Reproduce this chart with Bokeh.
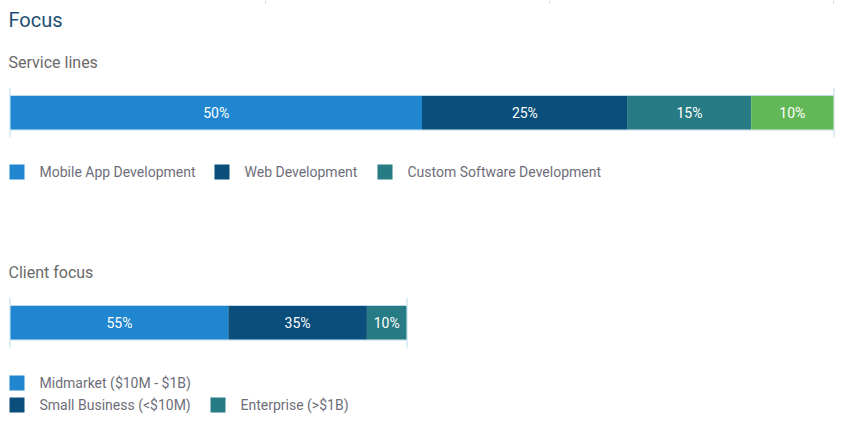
from bokeh.plotting import figure
from bokeh.models import Range1d, ColumnDataSource
from bokeh.embed import file_html
from bokeh.resources import INLINE
from bokeh.core.properties import value
import numpy as np

# ---- data ----
title_text = "Focus"
service_title = "Service lines"
service_labels = ["Mobile App Development", "Web Development", "Custom Software Development", "Other"]
service_values = [50, 25, 15, 10]
service_legend = ["Mobile App Development", "Web Development", "Custom Software Development"]

client_title = "Client focus"
client_labels = ["Midmarket ($10M - $1B)", "Small Business (<$10M)", "Enterprise (>$1B)"]
client_values = [55, 35, 10]

palette = ["#1f86cf", "#0a4f7b", "#277b85", "#62b857"]

FONT = value("Roboto")
BORDER = "#bcdcee"

W, H = 850, 424
p = figure(width=W, height=H, x_range=Range1d(0, W), y_range=Range1d(H, 0),
           output_backend="svg", toolbar_location=None, min_border=0,
           outline_line_color=None)
p.xaxis.visible = False
p.yaxis.visible = False
p.xgrid.visible = False
p.ygrid.visible = False
p.background_fill_color = "white"
p.border_fill_color = "white"

# faint top ticks
p.segment(x0=[265, 549, 833], y0=[0, 0, 0], x1=[265, 549, 833], y1=[3, 3, 3],
          line_color=BORDER, line_width=1)

# titles
p.text(x=[8], y=[19], text=[title_text], text_font=FONT, text_font_size="20px",
       text_color="#1e4f73", text_baseline="middle", text_align="left")
p.text(x=[8], y=[62], text=[service_title], text_font=FONT, text_font_size="16px",
       text_color="#6a6a6a", text_baseline="middle", text_align="left")
p.text(x=[8], y=[272], text=[client_title], text_font=FONT, text_font_size="16px",
       text_color="#6a6a6a", text_baseline="middle", text_align="left")


def stacked_bar(values, colors, x0, full_w, top, bottom):
    vals = np.array(values, dtype=float)
    frac = vals / vals.sum()
    rights = x0 + np.cumsum(frac) * full_w
    lefts = rights - frac * full_w
    src = ColumnDataSource(dict(left=lefts, right=rights, top=[top] * len(vals),
                                bottom=[bottom] * len(vals), color=colors[:len(vals)],
                                xc=(lefts + rights) / 2, yc=[(top + bottom) / 2] * len(vals),
                                lab=[f"{int(v)}%" for v in values]))
    # frame lines
    p.segment(x0=[x0, x0], y0=[top - 0.5, bottom + 0.5], x1=[x0 + full_w, x0 + full_w],
              y1=[top - 0.5, bottom + 0.5], line_color=BORDER, line_width=1)
    p.segment(x0=[x0 - 0.5, x0 + full_w + 0.5], y0=[top - 8, top - 8],
              x1=[x0 - 0.5, x0 + full_w + 0.5], y1=[bottom + 8, bottom + 8],
              line_color=BORDER, line_width=1)
    p.quad(left="left", right="right", top="top", bottom="bottom", fill_color="color",
           line_color=None, source=src)
    p.text(x="xc", y="yc", text="lab", source=src, text_font=FONT, text_font_size="14px",
           text_color="white", text_align="center", text_baseline="middle")


stacked_bar(service_values, palette, 10, 823, 95.5, 129)
stacked_bar(client_values, palette, 10, 396, 305.5, 339)


def legend(items, colors, xs, ys):
    p.quad(left=[x for x in xs], right=[x + 15 for x in xs],
           top=[y - 7.5 for y in ys], bottom=[y + 7.5 for y in ys],
           fill_color=colors, line_color=None)
    p.text(x=[x + 30 for x in xs], y=ys, text=items, text_font=FONT, text_font_size="14px",
           text_color="#6e6e7a", text_baseline="middle", text_align="left")


legend(service_legend, palette[:3], [9, 214, 377], [171.5, 171.5, 171.5])
legend(client_labels, palette[:3], [9, 9, 210], [382.5, 404.5, 404.5])

open("out.html", "w").write(file_html(p, INLINE))
